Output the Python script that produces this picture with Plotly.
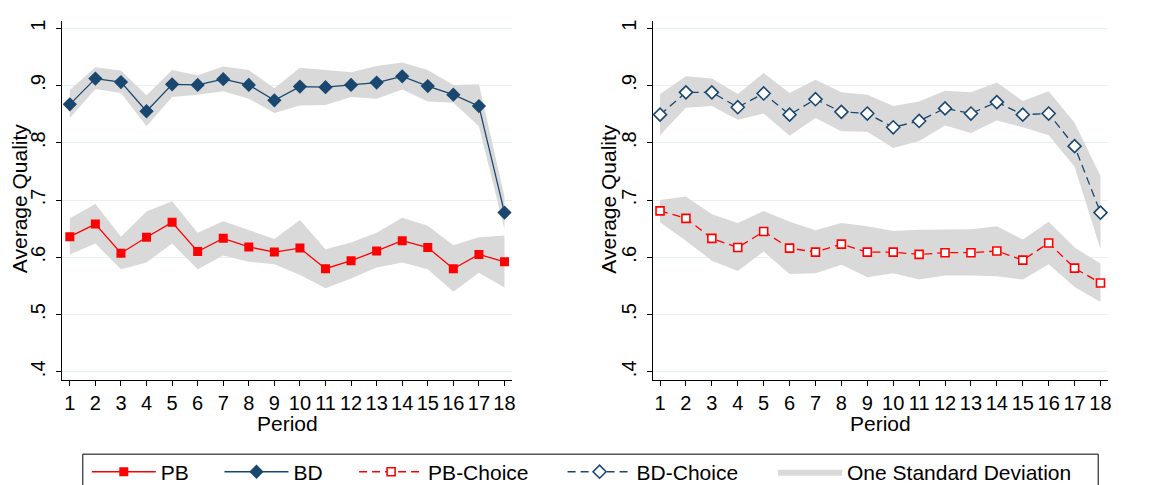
import plotly.graph_objects as go

periods = list(range(1, 19))
tick_text_x = [str(p) for p in periods]
y_tick_vals = [0.4, 0.5, 0.6, 0.7, 0.8, 0.9, 1.0]
y_tick_text = [".4", ".5", ".6", ".7", ".8", ".9", "1"]

# Left panel
pb = [0.636, 0.658, 0.607, 0.635, 0.661, 0.610, 0.633, 0.618, 0.609, 0.616,
      0.580, 0.594, 0.611, 0.629, 0.617, 0.580, 0.605, 0.592]
pb_hi = [0.668, 0.693, 0.636, 0.680, 0.698, 0.643, 0.663, 0.648, 0.632, 0.665,
         0.614, 0.626, 0.643, 0.669, 0.655, 0.621, 0.635, 0.638]
pb_lo = [0.605, 0.624, 0.579, 0.591, 0.624, 0.579, 0.603, 0.592, 0.588, 0.569,
         0.546, 0.563, 0.582, 0.591, 0.579, 0.540, 0.573, 0.547]
bd = [0.867, 0.912, 0.906, 0.855, 0.902, 0.901, 0.911, 0.901, 0.874, 0.898,
      0.897, 0.901, 0.905, 0.916, 0.899, 0.884, 0.864, 0.678]
bd_hi = [0.892, 0.932, 0.926, 0.883, 0.927, 0.918, 0.933, 0.927, 0.895, 0.931,
         0.927, 0.923, 0.934, 0.940, 0.927, 0.901, 0.902, 0.706]
bd_lo = [0.843, 0.894, 0.887, 0.829, 0.880, 0.884, 0.890, 0.877, 0.852, 0.865,
         0.866, 0.880, 0.877, 0.893, 0.872, 0.870, 0.829, 0.649]

# Right panel
pbc = [0.681, 0.668, 0.633, 0.617, 0.645, 0.616, 0.609, 0.623, 0.609, 0.609,
       0.605, 0.608, 0.608, 0.611, 0.595, 0.625, 0.581, 0.555]
pbc_hi = [0.700, 0.706, 0.675, 0.660, 0.681, 0.662, 0.647, 0.660, 0.654, 0.646,
          0.648, 0.648, 0.649, 0.654, 0.631, 0.662, 0.617, 0.589]
pbc_lo = [0.661, 0.629, 0.594, 0.576, 0.610, 0.571, 0.572, 0.587, 0.565, 0.572,
          0.561, 0.568, 0.568, 0.567, 0.561, 0.588, 0.548, 0.522]
bdc = [0.849, 0.888, 0.888, 0.862, 0.886, 0.849, 0.876, 0.854, 0.851, 0.827,
       0.838, 0.860, 0.851, 0.871, 0.849, 0.851, 0.794, 0.678]
bdc_hi = [0.885, 0.916, 0.912, 0.885, 0.922, 0.887, 0.910, 0.888, 0.884, 0.864,
          0.872, 0.891, 0.888, 0.905, 0.873, 0.890, 0.835, 0.742]
bdc_lo = [0.813, 0.861, 0.864, 0.840, 0.851, 0.812, 0.843, 0.820, 0.819, 0.791,
          0.803, 0.830, 0.817, 0.839, 0.827, 0.813, 0.758, 0.614]

RED = "#FF0000"
NAVY = "#1A476F"
BAND = "rgb(217,217,217)"
FONT = "Liberation Sans, Arial, sans-serif"
W, H = 1172, 485

fig = go.Figure()


def band(hi, lo, xa, ya, show):
    fig.add_trace(go.Scatter(
        x=periods + periods[::-1], y=hi + lo[::-1], fill="toself",
        fillcolor=BAND, line=dict(width=0), mode="lines",
        name="One Standard Deviation", showlegend=show, legend="legend5",
        xaxis=xa, yaxis=ya, hoverinfo="skip"))


band(pb_hi, pb_lo, "x", "y", True)
band(bd_hi, bd_lo, "x", "y", False)
band(pbc_hi, pbc_lo, "x2", "y2", False)
band(bdc_hi, bdc_lo, "x2", "y2", False)

fig.add_trace(go.Scatter(x=periods, y=pb, mode="lines+markers", name="PB",
                         line=dict(color=RED, width=1.3),
                         marker=dict(symbol="square", size=9, color=RED),
                         xaxis="x", yaxis="y", legend="legend"))
fig.add_trace(go.Scatter(x=periods, y=bd, mode="lines+markers", name="BD",
                         line=dict(color=NAVY, width=1.3),
                         marker=dict(symbol="diamond", size=11, color=NAVY),
                         xaxis="x", yaxis="y", legend="legend2"))
fig.add_trace(go.Scatter(x=periods, y=pbc, mode="lines+markers", name="PB-Choice",
                         line=dict(color=RED, width=1.3, dash="8px,5px"),
                         marker=dict(symbol="square", size=8, color="white",
                                     line=dict(color=RED, width=1.6)),
                         xaxis="x2", yaxis="y2", legend="legend3"))
fig.add_trace(go.Scatter(x=periods, y=bdc, mode="lines+markers", name="BD-Choice",
                         line=dict(color=NAVY, width=1.3, dash="8px,5px"),
                         marker=dict(symbol="diamond", size=10, color="white",
                                     line=dict(color=NAVY, width=1.6)),
                         xaxis="x2", yaxis="y2", legend="legend4"))

ydom = [1 - 372.3 / H, 1 - 11.7 / H]
common_x = dict(tickmode="array", tickvals=periods, ticktext=tick_text_x,
                showline=True, linecolor="black", linewidth=1,
                ticks="outside", ticklen=5, tickcolor="black", tickwidth=1,
                showgrid=False, zeroline=False,
                tickfont=dict(size=20, color="black", family=FONT))
common_y = dict(tickmode="array", tickvals=y_tick_vals, ticktext=y_tick_text,
                range=[0.3861, 1.0132], domain=ydom,
                showline=True, linecolor="black", linewidth=1,
                ticks="outside", ticklen=5, tickcolor="black", tickwidth=1,
                showgrid=True, gridcolor="#e6eff1", gridwidth=1,
                zeroline=False, tickangle=-90, ticklabelstandoff=3,
                tickfont=dict(size=20, color="black", family=FONT))

fig.update_layout(
    width=W, height=H,
    margin=dict(l=0, r=0, t=0, b=0),
    paper_bgcolor="white", plot_bgcolor="white",
    font=dict(family=FONT, color="black", size=21),
    xaxis=dict(common_x, domain=[54.3 / W, 505.7 / W], range=[0.70, 18.31],
               anchor="y"),
    yaxis=dict(common_y, anchor="x"),
    xaxis2=dict(common_x, domain=[646.7 / W, 1103.3 / W], range=[0.7306, 18.308],
                anchor="y2"),
    yaxis2=dict(common_y, anchor="x2"),
    showlegend=True,
)

leg_common = dict(orientation="h", xanchor="left", yanchor="middle",
                  y=1 - 465 / H, bgcolor="rgba(0,0,0,0)", borderwidth=0,
                  itemwidth=64, font=dict(size=21, color="black", family=FONT))
text_starts = [160, 293, 428, 637, 848]
names = ["legend", "legend2", "legend3", "legend4", "legend5"]
for nm, ts in zip(names, text_starts):
    fig.update_layout({nm: dict(leg_common, x=(ts - 81) / W)})

# legend frame
fig.add_shape(type="rect", xref="paper", yref="paper",
              x0=75 / W, x1=1093 / W, y0=1 - 483 / H, y1=1 - 447 / H,
              line=dict(color="black", width=1), fillcolor="rgba(0,0,0,0)")

# axis titles
for xc in [17, 608]:
    fig.add_annotation(text="Average Quality", xref="paper", yref="paper",
                       x=xc / W, y=1 - 190 / H, textangle=-90, showarrow=False,
                       xanchor="center", yanchor="middle", xshift=-6,
                       font=dict(size=21, color="black", family=FONT))
for xc in [280, 875]:
    fig.add_annotation(text="Period", xref="paper", yref="paper",
                       x=xc / W, y=1 - 416 / H, showarrow=False,
                       xanchor="center", yanchor="middle",
                       font=dict(size=21, color="black", family=FONT))

fig.write_html("out.html")
